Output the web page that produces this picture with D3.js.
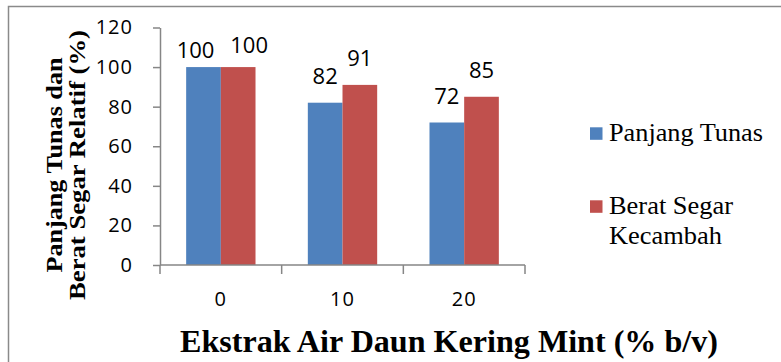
<!DOCTYPE html>
<html>
<head>
<meta charset="utf-8">
<script src="https://cdn.jsdelivr.net/npm/d3@7/dist/d3.min.js"></script>
<style>
  html, body { margin: 0; padding: 0; background: #fff; }
  svg { display: block; }
  .serif { font-family: "Liberation Serif", "DejaVu Serif", serif; }
  .num { font-family: "Open Sans", sans-serif; }
</style>
</head>
<body>
<svg id="chart" width="781" height="362"></svg>
<script>
// Relative shoot length and fresh weight vs. dried mint-leaf water extract
const categories = ["0", "10", "20"];
const seriesNames = ["Panjang Tunas", "Berat Segar Kecambah"];
const panjangTunas = [100, 82, 72];
const beratSegar = [100, 91, 85];
const yTicks = [0, 20, 40, 60, 80, 100, 120];
const legendLines = [["Panjang Tunas"], ["Berat Segar", "Kecambah"]];
const colors = ["#4F81BD", "#C0504D"];

const xTitle = "Ekstrak Air Daun Kering Mint (% b/v)";
const yTitleLines = ["Panjang Tunas dan", "Berat Segar Relatif (%)"];

const svg = d3.select("#chart");
const axisColor = "#868686";

// outer frame
svg.append("rect")
  .attr("x", 8.5).attr("y", 6.5)
  .attr("width", 820).attr("height", 420)
  .attr("fill", "none").attr("stroke", "#8a8a8a").attr("stroke-width", 1.5);

const plot = { left: 160, right: 525, top: 27.5, bottom: 265 };

const y = d3.scaleLinear().domain([0, 120]).range([plot.bottom, plot.top]);
const x0 = d3.scaleBand().domain(categories)
  .range([plot.left, plot.right]).paddingInner(0.43).paddingOuter(0.215);
const x1 = d3.scaleBand().domain(seriesNames).range([0, x0.bandwidth()]);

const rows = categories.map((c, i) => ({
  cat: c,
  vals: [
    { name: seriesNames[0], v: panjangTunas[i], k: 0 },
    { name: seriesNames[1], v: beratSegar[i], k: 1 }
  ]
}));

// bars
const groups = svg.append("g").selectAll("g").data(rows).join("g")
  .attr("transform", d => `translate(${x0(d.cat)},0)`);
groups.selectAll("rect").data(d => d.vals).join("rect")
  .attr("x", d => x1(d.name))
  .attr("y", d => y(d.v))
  .attr("width", x1.bandwidth())
  .attr("height", d => y(0) - y(d.v))
  .attr("fill", d => colors[d.k]);

// value labels; the equal pair in the first group is spread apart so they don't collide
groups.each(function (d) {
  const same = d.vals[0].v === d.vals[1].v;
  d3.select(this).selectAll("text.val").data(d.vals).join("text")
    .attr("class", "val num")
    .attr("x", v => x1(v.name) + x1.bandwidth() / 2 + (same ? (v.k === 0 ? -8 : 11) : 0))
    .attr("y", v => y(v.v) - (same ? (v.k === 0 ? 9 : 14) : 19))
    .attr("text-anchor", "middle")
    .style("font-size", "22px")
    .attr("fill", "#000")
    .text(v => v.v);
});

// y axis
const yAxis = d3.axisLeft(y).tickValues(yTicks).tickSize(7).tickPadding(20).tickSizeOuter(0);
const gy = svg.append("g").attr("transform", `translate(${plot.left},0)`).call(yAxis)
  .attr("font-family", null).attr("font-size", null);
gy.select(".domain").attr("stroke", axisColor).attr("stroke-width", 1.5);
gy.selectAll(".tick line").attr("stroke", axisColor).attr("stroke-width", 1.5);
gy.selectAll(".tick text")
  .attr("class", "num").style("font-size", "20px")
  .attr("letter-spacing", 1).attr("fill", "#000");

// x axis: ticks sit on category boundaries, labels in the middle of each category
const step = x0.step();
const boundaries = d3.range(categories.length + 1).map(i => plot.left + i * step);
const gx = svg.append("g");
gx.append("line")
  .attr("x1", plot.left).attr("x2", plot.right)
  .attr("y1", plot.bottom).attr("y2", plot.bottom)
  .attr("stroke", axisColor).attr("stroke-width", 1.5);
gx.selectAll("line.tick").data(boundaries).join("line")
  .attr("class", "tick")
  .attr("x1", d => d).attr("x2", d => d)
  .attr("y1", plot.bottom).attr("y2", plot.bottom + 9)
  .attr("stroke", axisColor).attr("stroke-width", 1.5);
gx.selectAll("text").data(categories).join("text")
  .attr("class", "num")
  .attr("x", d => x0(d) + x0.bandwidth() / 2)
  .attr("y", 306)
  .attr("text-anchor", "middle")
  .style("font-size", "20px")
  .attr("letter-spacing", 1).attr("fill", "#000")
  .text(d => d);

// axis titles
svg.append("text")
  .attr("class", "serif")
  .attr("x", 180).attr("y", 351.5)
  .style("font-weight", "bold").style("font-size", "31.5px")
  .attr("fill", "#000")
  .attr("textLength", 538).attr("lengthAdjust", "spacingAndGlyphs")
  .text(xTitle);

const yTitleBase = [62, 85];
const yTitleLen = [215, 270];
svg.selectAll("text.ytitle").data(yTitleLines).join("text")
  .attr("class", "ytitle serif")
  .attr("transform", (d, i) => `translate(${yTitleBase[i]},${165 + yTitleLen[i] / 2}) rotate(-90) scale(1,0.85)`)
  .style("font-weight", "bold").style("font-size", "26px")
  .attr("fill", "#000")
  .attr("textLength", (d, i) => yTitleLen[i]).attr("lengthAdjust", "spacingAndGlyphs")
  .text(d => d);

// legend
const legendY = [127.3, 200.3];
const legendLen = { "Panjang Tunas": 154, "Berat Segar": 124, "Kecambah": 113 };
const legend = svg.append("g").selectAll("g").data(legendLines).join("g");
legend.append("rect")
  .attr("x", 590).attr("y", (d, i) => legendY[i])
  .attr("width", 12.5).attr("height", 12.5)
  .attr("fill", (d, i) => colors[i]);
legend.selectAll("text")
  .data((d, i) => d.map((t, j) => ({ t, i, j }))).join("text")
  .attr("class", "serif")
  .attr("x", 609)
  .attr("y", d => legendY[d.i] + 13.5 + d.j * 30)
  .style("font-size", "26px")
  .attr("fill", "#000")
  .attr("textLength", d => legendLen[d.t]).attr("lengthAdjust", "spacingAndGlyphs")
  .text(d => d.t);
</script>
</body>
</html>
